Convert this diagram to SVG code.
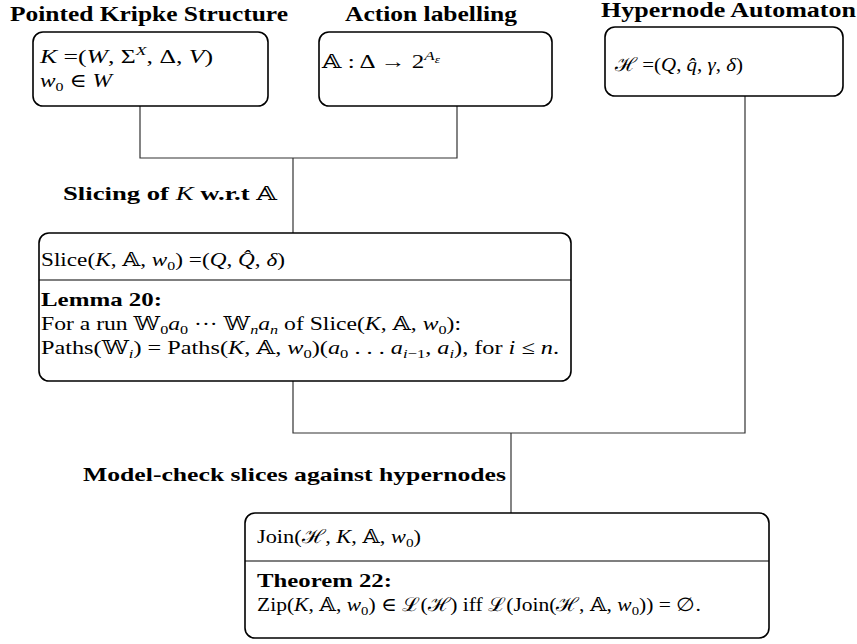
<svg xmlns="http://www.w3.org/2000/svg" width="857" height="644" viewBox="0 0 857 644">
<style>
text{font-family:"Liberation Serif","DejaVu Serif",serif;font-size:19px;fill:#000}
.t{font-weight:bold;font-size:20px}
.b{font-weight:bold}
.i{font-style:italic}
.s{font-size:13px}
.box{fill:#fff;stroke:#000;stroke-width:1.6}
.div{stroke:#000;stroke-width:1.2;fill:none}
.con{fill:none;stroke:#333;stroke-width:1.2}
</style>
<rect width="857" height="644" fill="#fff"/>
<g id="connectors">
<path class="con" d="M140,106 V158 H457 V106"/>
<path class="con" d="M293,158 V233"/>
<path class="con" d="M293,381 V433 H745 V96"/>
<path class="con" d="M511,433 V513"/>
</g>
<g id="kripke">
<text class="t" x="10" y="21" textLength="278" lengthAdjust="spacingAndGlyphs">Pointed Kripke Structure</text>
<rect class="box" x="33" y="32" width="235" height="74" rx="10"/>
<text x="40" y="63" textLength="173" lengthAdjust="spacingAndGlyphs"><tspan class="i">K</tspan> =(<tspan class="i">W</tspan>, Σ<tspan class="s i" dy="-8">X</tspan><tspan dy="8">, Δ, </tspan><tspan class="i">V</tspan>)</text>
<text x="40" y="87" textLength="72" lengthAdjust="spacingAndGlyphs"><tspan class="i">w</tspan><tspan class="s" dy="4">0</tspan><tspan dy="-4"> ∈ </tspan><tspan class="i">W</tspan></text>
</g>
<g id="action">
<text class="t" x="345" y="21" textLength="172" lengthAdjust="spacingAndGlyphs">Action labelling</text>
<rect class="box" x="319" y="32" width="233" height="74" rx="10"/>
<text x="322" y="68" textLength="118" lengthAdjust="spacingAndGlyphs">𝔸 : Δ → 2<tspan class="s i" dy="-8">A</tspan><tspan class="i" font-size="10" dy="3">ε</tspan></text>
</g>
<g id="hypernode">
<text class="t" x="601" y="17" textLength="255" lengthAdjust="spacingAndGlyphs">Hypernode Automaton</text>
<rect class="box" x="605" y="27" width="238" height="69" rx="10"/>
<text x="615" y="71" textLength="128" lengthAdjust="spacingAndGlyphs">ℋ =(<tspan class="i">Q</tspan>, <tspan class="i">q̂</tspan>, <tspan class="i">γ</tspan>, <tspan class="i">δ</tspan>)</text>
</g>
<g id="slicing-label">
<text class="b" x="63" y="200" textLength="214" lengthAdjust="spacingAndGlyphs">Slicing of <tspan class="i" font-weight="normal">K</tspan> w.r.t <tspan font-weight="normal">𝔸</tspan></text>
</g>
<g id="slice">
<rect class="box" x="39" y="233" width="532" height="148" rx="10"/>
<line class="div" x1="39" y1="280" x2="571" y2="280"/>
<text x="41" y="266" textLength="244" lengthAdjust="spacingAndGlyphs">Slice(<tspan class="i">K</tspan>, 𝔸, <tspan class="i">w</tspan><tspan class="s" dy="4">0</tspan><tspan dy="-4">) =(</tspan><tspan class="i">Q</tspan>, <tspan class="i">Q̂</tspan>, <tspan class="i">δ</tspan>)</text>
<text class="b" x="41" y="306" textLength="121" lengthAdjust="spacingAndGlyphs">Lemma 20:</text>
<text x="41" y="330" textLength="420" lengthAdjust="spacingAndGlyphs">For a run 𝕎<tspan class="s" dy="4">0</tspan><tspan class="i" dy="-4">a</tspan><tspan class="s" dy="4">0</tspan><tspan dy="-4"> ··· 𝕎</tspan><tspan class="s i" dy="4">n</tspan><tspan class="i" dy="-4">a</tspan><tspan class="s i" dy="4">n</tspan><tspan dy="-4"> of Slice(</tspan><tspan class="i">K</tspan>, 𝔸, <tspan class="i">w</tspan><tspan class="s" dy="4">0</tspan><tspan dy="-4">):</tspan></text>
<text x="41" y="354" textLength="518" lengthAdjust="spacingAndGlyphs">Paths(𝕎<tspan class="s i" dy="4">i</tspan><tspan dy="-4">) = Paths(</tspan><tspan class="i">K</tspan>, 𝔸, <tspan class="i">w</tspan><tspan class="s" dy="4">0</tspan><tspan dy="-4">)(</tspan><tspan class="i">a</tspan><tspan class="s" dy="4">0</tspan><tspan dy="-4"> . . . </tspan><tspan class="i">a</tspan><tspan class="s" dy="4"><tspan class="i">i</tspan>−1</tspan><tspan dy="-4">, </tspan><tspan class="i">a</tspan><tspan class="s i" dy="4">i</tspan><tspan dy="-4">), for </tspan><tspan class="i">i</tspan> ≤ <tspan class="i">n</tspan>.</text>
</g>
<g id="modelcheck-label">
<text class="b" x="83" y="481" textLength="423" lengthAdjust="spacingAndGlyphs">Model-check slices against hypernodes</text>
</g>
<g id="join">
<rect class="box" x="245" y="513" width="524" height="125" rx="10"/>
<line class="div" x1="245" y1="561" x2="769" y2="561"/>
<text x="257" y="543" textLength="164" lengthAdjust="spacingAndGlyphs">Join(ℋ, <tspan class="i">K</tspan>, 𝔸, <tspan class="i">w</tspan><tspan class="s" dy="4">0</tspan><tspan dy="-4">)</tspan></text>
<text class="b" x="257" y="587" textLength="135" lengthAdjust="spacingAndGlyphs">Theorem 22:</text>
<text x="257" y="611" textLength="444" lengthAdjust="spacingAndGlyphs">Zip(<tspan class="i">K</tspan>, 𝔸, <tspan class="i">w</tspan><tspan class="s" dy="4">0</tspan><tspan dy="-4">) ∈ ℒ(ℋ) iff ℒ(Join(ℋ, 𝔸, </tspan><tspan class="i">w</tspan><tspan class="s" dy="4">0</tspan><tspan dy="-4">)) = ∅.</tspan></text>
</g>
</svg>
